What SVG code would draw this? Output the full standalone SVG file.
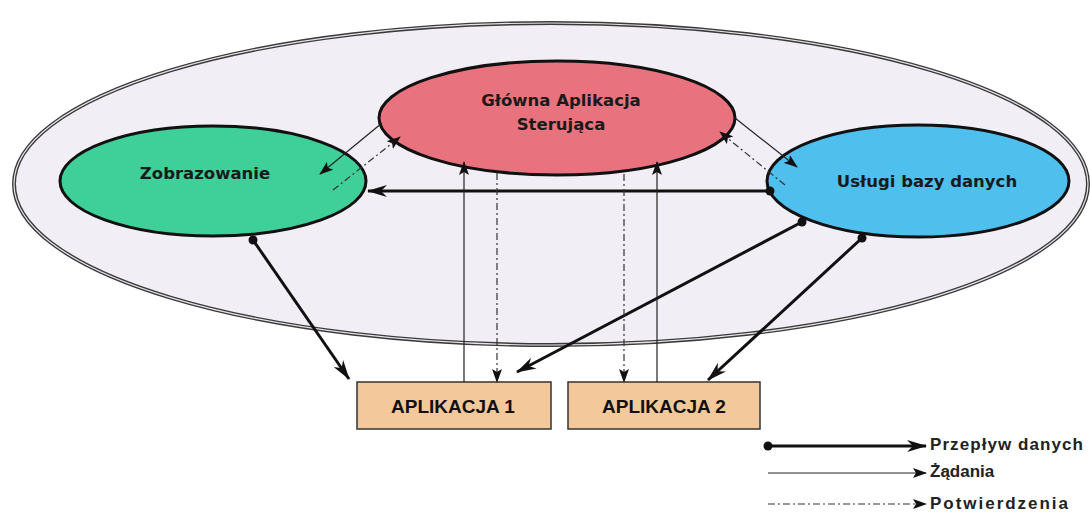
<svg xmlns="http://www.w3.org/2000/svg" width="1090" height="512" viewBox="0 0 1090 512">
<style>
.lbl{font-family:"DejaVu Sans","Liberation Sans",sans-serif;font-weight:bold;font-size:16.5px;fill:#1a1a1a;text-anchor:middle}
.box{fill:#f3c99c;stroke:#333;stroke-width:1.5}
.boxt{font-family:"Liberation Sans",Arial,sans-serif;font-weight:bold;font-size:19px;fill:#111;text-anchor:middle}
.leg{font-family:"Liberation Sans",Arial,sans-serif;font-weight:bold;font-size:17px;fill:#222}
.flow{stroke:#111;stroke-width:3;fill:none;marker-start:url(#dot);marker-end:url(#ahFlow)}
.req{stroke:#222;stroke-width:1.2;fill:none;marker-end:url(#ahReq)}
.conf{stroke:#333;stroke-width:1.2;fill:none;stroke-dasharray:7,3,2,3;marker-end:url(#ahReq)}
.node{stroke:#111;stroke-width:3}
</style>
<defs>
<marker id="ahFlow" markerUnits="userSpaceOnUse" viewBox="0 0 20 12" refX="19" refY="6" markerWidth="20" markerHeight="12" orient="auto">
<path d="M0,0 L20,6 L0,12 L6,6 z" fill="#111"/>
</marker>
<marker id="ahReq" markerUnits="userSpaceOnUse" viewBox="0 0 14 10" refX="13" refY="5" markerWidth="14" markerHeight="10" orient="auto">
<path d="M0,0 L14,5 L0,10 L3,5 z" fill="#111"/>
</marker>
<marker id="dot" markerUnits="userSpaceOnUse" viewBox="0 0 10 10" refX="5" refY="5" markerWidth="10" markerHeight="10">
<circle cx="5" cy="5" r="4.5" fill="#111"/>
</marker>
</defs>
<rect width="1090" height="512" fill="#ffffff"/>
<g id="system">
<ellipse cx="551" cy="184" rx="537" ry="161" fill="#f1eef6" stroke="#3a3a3a" stroke-width="4"/>
<ellipse cx="551" cy="184" rx="537" ry="161" fill="none" stroke="#e6e3ea" stroke-width="1.2"/>
</g>
<g id="zobrazowanie">
<ellipse class="node" cx="213" cy="181" rx="153" ry="55" fill="#3fcf98"/>
<text class="lbl" x="205" y="179">Zobrazowanie</text>
</g>
<g id="glowna">
<ellipse class="node" cx="557" cy="118" rx="178" ry="57" fill="#e8737f"/>
<text class="lbl" x="561" y="106">Główna Aplikacja</text>
<text class="lbl" x="561" y="130">Sterująca</text>
</g>
<g id="uslugi">
<ellipse class="node" cx="918" cy="181" rx="151" ry="56" fill="#4fbfee"/>
<text class="lbl" x="927" y="187" font-family="Liberation Sans" font-size="17">Usługi bazy danych</text>
</g>
<g id="aplikacja1">
<rect class="box" x="357" y="382" width="194" height="47"/>
<text class="boxt" x="453" y="413">APLIKACJA 1</text>
</g>
<g id="aplikacja2">
<rect class="box" x="568" y="382" width="192" height="47"/>
<text class="boxt" x="664" y="413">APLIKACJA 2</text>
</g>
<g id="connectors">
<line class="flow" x1="770" y1="191" x2="368" y2="191"/>
<line class="flow" x1="253" y1="240" x2="349" y2="379"/>
<line class="flow" x1="802" y1="222" x2="517" y2="372"/>
<line class="flow" x1="862" y1="238" x2="708" y2="380"/>
<line class="req" x1="464" y1="382" x2="464" y2="162"/>
<line class="req" x1="657" y1="382" x2="657" y2="162"/>
<line class="req" x1="382" y1="123" x2="320" y2="174"/>
<line class="req" x1="735" y1="118" x2="797" y2="167"/>
<line class="conf" x1="497" y1="173" x2="497" y2="382"/>
<line class="conf" x1="624" y1="174" x2="624" y2="382"/>
<line class="conf" x1="333" y1="190" x2="400" y2="137"/>
<line class="conf" x1="785" y1="185" x2="720" y2="132"/>
</g>
<g id="legend">
<line class="flow" x1="768" y1="446" x2="926" y2="446"/>
<text class="leg" x="930" y="450" textLength="153">Przepływ danych</text>
<line class="req" x1="768" y1="473" x2="926" y2="473"/>
<text class="leg" x="930" y="477">Żądania</text>
<line class="conf" x1="768" y1="504" x2="926" y2="504"/>
<text class="leg" x="930" y="509" textLength="138">Potwierdzenia</text>
</g>
</svg>
